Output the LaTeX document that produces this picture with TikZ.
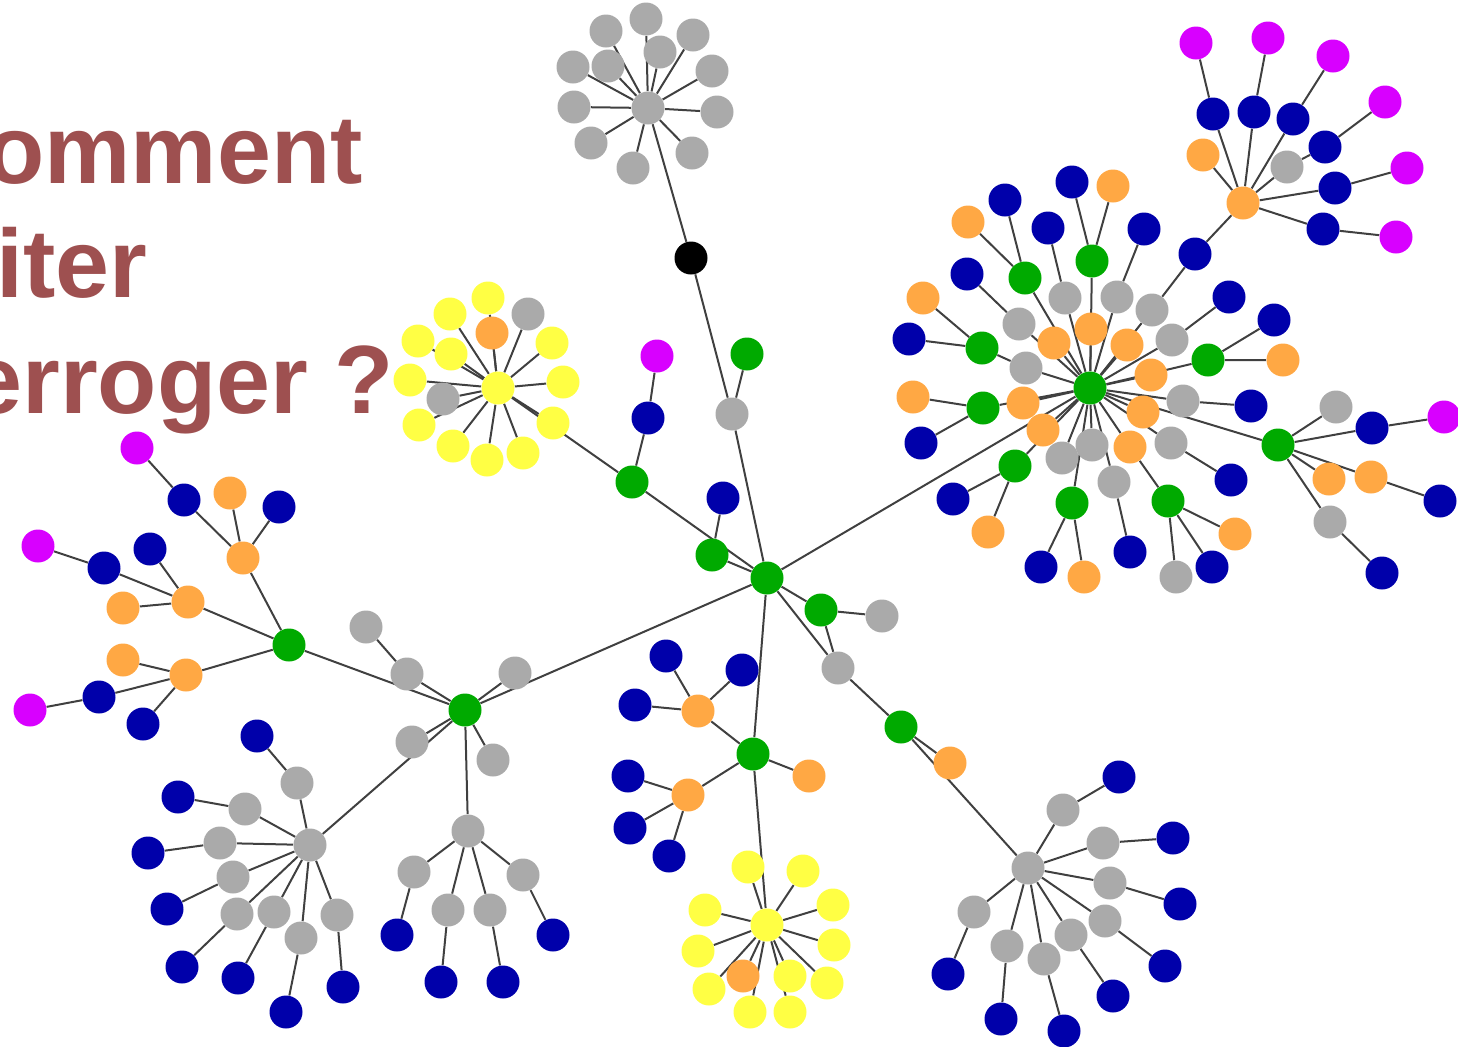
\documentclass[tikz,border=0pt]{standalone}
\usepackage{fontspec}
\setmainfont{Liberation Sans}
\usetikzlibrary{backgrounds}
\definecolor{cgray}{HTML}{AAAAAA}
\definecolor{cblue}{HTML}{0000AA}
\definecolor{corange}{HTML}{FFA844}
\definecolor{cgreen}{HTML}{00AA00}
\definecolor{cyellow}{HTML}{FFFF44}
\definecolor{cmag}{HTML}{D800FF}
\definecolor{cedge}{HTML}{404040}
\definecolor{ctext}{HTML}{9E5050}
\begin{document}
\begin{tikzpicture}[x=0.5pt,y=-0.5pt,
 v/.style={circle,inner sep=0pt,minimum size=16.5pt,draw=none},
 gy/.style={v,fill=cgray}, bl/.style={v,fill=cblue}, og/.style={v,fill=corange},
 gn/.style={v,fill=cgreen}, ye/.style={v,fill=cyellow}, mg/.style={v,fill=cmag}, bk/.style={v,fill=black},
 ln/.style={draw=cedge,line width=1pt},
 ttl/.style={anchor=base west,inner sep=0pt,text=ctext,font=\fontsize{48.5}{58}\selectfont\bfseries}]
\useasboundingbox (0,0) rectangle (1458,1046);
% title text
\node[ttl] (w1) at (-15,183) {omment};
\node[ttl] (w2) at (-4,297) {iter};
\node[ttl] (w3) at (-32,413) {erroger ?};
% top gray cluster
\node[gy] (t0) at (648,108) {};
\foreach \i/\x/\y in {1/606/31,2/646/19,3/693/35,4/660/52,5/608/66,6/573/67,7/712/71,8/574/107,9/717/112,10/591/143,11/692/153,12/633/168}
  \node[gy] (t\i) at (\x,\y) {};
\node[bk] (k) at (691,258) {};
\node[gy] (g1) at (732,414) {};
\node[gn] (g2) at (747,354) {};
% center
\node[gn] (c) at (767,578) {};
\node[mg] (m1) at (657,356) {};
\node[bl] (b1) at (648,418) {};
\node[gn] (g3) at (632,482) {};
\node[gn] (g4) at (712,555) {};
\node[bl] (b2) at (723,498) {};
\node[gn] (g5) at (821,610) {};
\node[gy] (a1) at (882,616) {};
\node[gy] (a2) at (838,668) {};
\node[gn] (g6) at (901,727) {};
\node[og] (o1) at (950,763) {};
\node[gn] (g7) at (753,754) {};
\node[og] (o2) at (698,711) {};
\node[og] (o3) at (688,795) {};
\node[og] (o4) at (809,776) {};
\foreach \i/\x/\y in {1/635/705,2/742/670,3/666/656} \node[bl] (p\i) at (\x,\y) {};
\foreach \i/\x/\y in {1/628/776,2/630/828,3/669/856} \node[bl] (q\i) at (\x,\y) {};
% bottom yellow cluster
\node[ye] (y0) at (767,925) {};
\foreach \i/\x/\y in {1/748/867,2/803/871,3/833/905,4/705/910,5/834/945,6/698/951,7/790/976,8/827/983,9/709/989,10/750/1012,11/790/1012}
  \node[ye] (y\i) at (\x,\y) {};
\node[og] (y12) at (743,976) {};
% top yellow cluster
\node[ye] (z0) at (498,388) {};
\foreach \i/\x/\y in {1/488/298,2/450/314,3/418/341,4/451/354,5/552/343,6/410/380,7/563/382,8/419/425,9/553/423,10/453/446,11/487/460,12/523/453}
  \node[ye] (z\i) at (\x,\y) {};
\node[og] (z13) at (492,333) {};
\node[gy] (z14) at (528,314) {};
\node[gy] (z15) at (443,399) {};
% left
\node[gn] (l0) at (465,710) {};
\node[gy] (l1) at (515,673) {};
\node[gy] (l2) at (412,742) {};
\node[gy] (l3) at (493,760) {};
\node[gy] (h2) at (468,831) {};
\node[gn] (l4) at (289,645) {};
\node[gy] (r1) at (366,627) {};
\node[gy] (r2) at (407,674) {};
\node[og] (s1) at (243,558) {};
\node[og] (s2) at (188,602) {};
\node[og] (s3) at (186,675) {};
\node[bl] (s1a) at (184,500) {}; \node[mg] (s1b) at (137,448) {}; \node[og] (s1c) at (230,493) {}; \node[bl] (s1d) at (279,507) {};
\node[bl] (s2a) at (104,568) {}; \node[mg] (s2b) at (38,546) {}; \node[bl] (s2c) at (150,549) {}; \node[og] (s2d) at (123,608) {};
\node[og] (s3a) at (123,660) {}; \node[bl] (s3b) at (99,697) {}; \node[mg] (s3c) at (30,710) {}; \node[bl] (s3d) at (143,724) {};
\node[gy] (h1) at (310,845) {};
\foreach \i/\x/\y/\u/\v in {1/297/783/257/736,2/245/809/178/797,3/220/843/148/853,4/233/877/167/909,5/237/914/182/967,6/274/912/238/978,7/301/938/286/1012,8/337/915/343/987}
  {\node[gy] (ha\i) at (\x,\y) {}; \node[bl] (hb\i) at (\u,\v) {};}
\foreach \i/\x/\y/\u/\v in {1/414/872/397/935,2/448/910/441/982,3/490/910/503/982,4/523/875/553/935}
  {\node[gy] (ja\i) at (\x,\y) {}; \node[bl] (jb\i) at (\u,\v) {};}
% bottom right gray cluster
\node[gy] (h3) at (1028,868) {};
\foreach \i/\x/\y/\u/\v in {1/1063/810/1119/777,2/1103/843/1173/838,3/1110/883/1180/904,4/1105/921/1165/966,5/1071/935/1113/996,6/1044/959/1064/1031,7/1007/946/1001/1019,8/974/912/948/974}
  {\node[gy] (ka\i) at (\x,\y) {}; \node[bl] (kb\i) at (\u,\v) {};}
% big hub
\node[gn] (bh) at (1090,388) {};
\foreach \i/\x/\y/\u/\v in {1/1065/298/1048/228,2/1117/297/1144/229,3/1019/324/967/274,4/1172/340/1229/297,5/1183/401/1251/406,6/1171/443/1231/480,7/1114/482/1130/552}
  {\node[gy] (ua\i) at (\x,\y) {}; \node[bl] (ub\i) at (\u,\v) {};}
\node[gy] (ux) at (1152,310) {};
\node[bl] (uy) at (1195,254) {};
\node[gy] (uz1) at (1092,445) {};
\node[gy] (uz2) at (1062,458) {};
\node[gy] (vg) at (1026,368) {};
\node[gn] (vg2) at (982,348) {};
\node[bl] (vb) at (909,339) {};
\node[og] (vo) at (923,298) {};
\foreach \i/\x/\y in {1/1091/329,2/1054/343,3/1127/345,4/1151/375,5/1143/412,6/1043/430,7/1023/403,8/1130/447}
  \node[og] (uo\i) at (\x,\y) {};
% greens around big hub with two children
\foreach \i/\x/\y/\bx/\by/\ox/\oy in {1/1025/278/1005/200/968/222,2/1092/261/1072/182/1113/186,3/983/408/921/443/913/397,4/1015/466/953/499/988/532,5/1072/503/1041/567/1084/577,6/1208/360/1274/320/1283/360}
  {\node[gn] (ug\i) at (\x,\y) {}; \node[bl] (ugb\i) at (\bx,\by) {}; \node[og] (ugo\i) at (\ox,\oy) {};}
\node[gn] (ug7) at (1168,501) {};
\node[gy] (ug7a) at (1176,577) {};
\node[bl] (ug7b) at (1212,567) {};
\node[og] (ug7c) at (1235,534) {};
\node[gn] (ug8) at (1278,445) {};
\node[gy] (ug8a) at (1336,407) {};
\node[bl] (ug8b) at (1372,428) {};
\node[mg] (ug8c) at (1444,417) {};
\node[og] (ug8d) at (1329,479) {};
\node[og] (ug8e) at (1371,477) {};
\node[bl] (ug8f) at (1440,501) {};
\node[gy] (ug8g) at (1330,522) {};
\node[bl] (ug8h) at (1382,573) {};
% top-right cluster
\node[og] (tr) at (1243,203) {};
\foreach \i/\x/\y/\u/\v in {1/1213/114/1196/43,2/1254/112/1268/38,3/1293/119/1333/56,4/1325/147/1385/102,5/1335/188/1407/168,6/1323/229/1396/237}
  {\node[bl] (xa\i) at (\x,\y) {}; \node[mg] (xb\i) at (\u,\v) {};}
\node[gy] (xg) at (1287,167) {};
\node[og] (xo) at (1203,155) {};
% ---------- edges ----------
\begin{scope}[on background layer]
\foreach \i in {1,...,12} \draw[ln] (t0)--(t\i);
\draw[ln] (t0)--(k) (k)--(g1) (g1)--(g2) (g1)--(c);
\draw[ln] (c)--(g3) (g3)--(b1) (b1)--(m1) (g3)--(z0) (c)--(g4) (g4)--(b2);
\draw[ln] (c)--(g5) (g5)--(a1) (g5)--(a2) (c)--(a2) (a2)--(g6) (g6)--(o1) (g6)--(h3);
\draw[ln] (c)--(l0) (l0)--(l1) (l0)--(l2) (l0)--(l3) (l0)--(h2) (l0)--(h1) (l0)--(l4) (l0)--(r2) (r1)--(r2);
\draw[ln] (l4)--(s1) (l4)--(s2) (l4)--(s3);
\draw[ln] (s1)--(s1a) (s1a)--(s1b) (s1)--(s1c) (s1)--(s1d);
\draw[ln] (s2)--(s2a) (s2a)--(s2b) (s2)--(s2c) (s2)--(s2d);
\draw[ln] (s3)--(s3a) (s3)--(s3b) (s3b)--(s3c) (s3)--(s3d);
\foreach \i in {1,...,8} \draw[ln] (h1)--(ha\i) (ha\i)--(hb\i);
\foreach \i in {1,...,4} \draw[ln] (h2)--(ja\i) (ja\i)--(jb\i);
\foreach \i in {1,...,8} \draw[ln] (h3)--(ka\i) (ka\i)--(kb\i);
\draw[ln] (c)--(g7) (g7)--(o2) (g7)--(o3) (g7)--(o4) (g7)--(y0);
\foreach \i in {1,2,3} \draw[ln] (o2)--(p\i) (o3)--(q\i);
\foreach \i in {1,...,12} \draw[ln] (y0)--(y\i);
\foreach \i in {1,...,15} \draw[ln] (z0)--(z\i);
\draw[ln] (c)--(bh);
\foreach \i in {1,...,7} \draw[ln] (bh)--(ua\i) (ua\i)--(ub\i);
\draw[ln] (bh)--(ux) (ux)--(uy) (uy)--(tr) (bh)--(uz1) (bh)--(uz2);
\draw[ln] (bh)--(vg) (vg)--(vg2) (vg2)--(vb) (vg2)--(vo);
\foreach \i in {1,...,8} \draw[ln] (bh)--(uo\i);
\foreach \i in {1,...,6} \draw[ln] (bh)--(ug\i) (ug\i)--(ugb\i) (ug\i)--(ugo\i);
\draw[ln] (uo8)--(ug7) (ug7)--(ug7a) (ug7)--(ug7b) (ug7)--(ug7c);
\draw[ln] (bh)--(ug8) (ug8)--(ug8a) (ug8)--(ug8b) (ug8b)--(ug8c) (ug8)--(ug8d) (ug8)--(ug8e) (ug8e)--(ug8f) (ug8)--(ug8g) (ug8g)--(ug8h);
\foreach \i in {1,2,3,5,6} \draw[ln] (tr)--(xa\i) (xa\i)--(xb\i);
\draw[ln] (tr)--(xg) (xg)--(xa4) (xa4)--(xb4) (tr)--(xo);
\end{scope}
\end{tikzpicture}
\end{document}
